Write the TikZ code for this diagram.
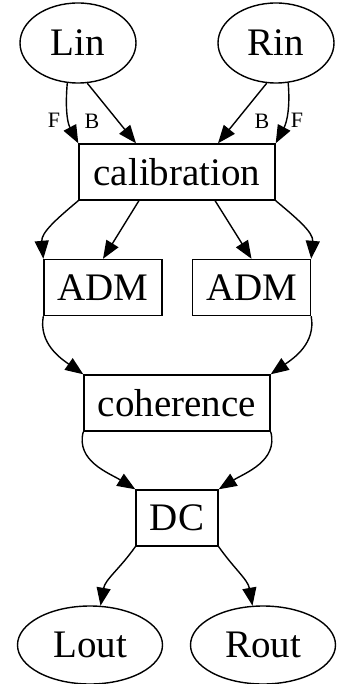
\documentclass[tikz,border=0pt]{standalone}
\usepackage{fontspec}
\setmainfont{Liberation Serif}
\usetikzlibrary{arrows.meta,shapes.geometric}
\begin{document}
\begin{tikzpicture}[
    x=1pt, y=1pt,
    font=\fontsize{39}{40}\selectfont,
    port/.style={draw, ellipse, line width=1.4pt, inner sep=0pt,
                 minimum width=116pt, minimum height=80pt},
    block/.style={draw, rectangle, line width=1.4pt, inner sep=0pt,
                  minimum height=56pt},
    elabel/.style={font=\fontsize{22}{23}\selectfont, inner sep=0pt},
    arrow/.style={-{Triangle[length=18pt,width=14pt]}, line width=1.4pt}
]
\useasboundingbox (0,0) rectangle (342,-684);

\node[port] (lin) at (78,-43) {Lin};
\node[port] (rin) at (276,-43) {Rin};
\node[block, minimum width=196pt] (calib) at (177,-172) {calibration};
\node[block, minimum width=118pt] (admL) at (103,-287.5) {ADM};
\node[block, minimum width=118pt] (admR) at (251.5,-287.5) {ADM};
\node[block, minimum width=186pt] (coh) at (177,-403) {coherence};
\node[block, minimum width=82pt] (dc) at (177,-518) {DC};
\node[port, minimum width=145pt, minimum height=78pt] (lout) at (90,-645) {Lout};
\node[port, minimum width=145pt, minimum height=78pt] (rout) at (263,-645) {Rout};

\draw[arrow] (lin.255) to[out=265,in=118] (calib.north west);
\draw[arrow] (lin.283) -- (calib.145);
\draw[arrow] (rin.257) -- (calib.35);
\draw[arrow] (rin.287) to[out=275,in=62] (calib.north east);
\node[elabel] (fL) at (54,-120) {F};
\node[elabel] (bL) at (92,-121) {B};
\node[elabel] (bR) at (262,-121) {B};
\node[elabel] (fR) at (297,-120) {F};

\draw[arrow] (calib.south west) to[out=220,in=95] (admL.north west);
\draw[arrow] (calib.217) -- (admL.north);
\draw[arrow] (calib.323) -- (admR.north);
\draw[arrow] (calib.south east) to[out=320,in=85] (admR.north east);

\draw[arrow] (admL.south west) to[out=260,in=145] (coh.north west);
\draw[arrow] (admR.south east) to[out=280,in=35] (coh.north east);

\draw[arrow] (coh.south west) to[out=255,in=148] (dc.north west);
\draw[arrow] (coh.south east) to[out=285,in=32] (dc.north east);

\draw[arrow] (dc.south west) to[out=235,in=80] (lout.75);
\draw[arrow] (dc.south east) to[out=305,in=100] (rout.105);
\end{tikzpicture}
\end{document}
